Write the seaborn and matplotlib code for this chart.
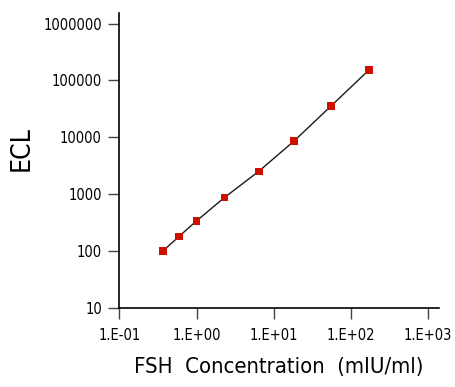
import numpy as np
import pandas as pd
import seaborn as sns
import matplotlib.pyplot as plt
from matplotlib import font_manager

# FSH standard curve
conc = [0.37, 0.59, 1.0, 2.31, 6.4, 18.2, 55.0, 171.0]
ecl = [100, 177, 335, 867, 2500, 8470, 35100, 152000]

x_ticks = [0.1, 1, 10, 100, 1000]
x_tick_labels = ["1.E-01", "1.E+00", "1.E+01", "1.E+02", "1.E+03"]
y_ticks = [10, 100, 1000, 10000, 100000, 1000000]
y_tick_labels = ["10", "100", "1000", "10000", "100000", "1000000"]

df = pd.DataFrame({"conc": conc, "ecl": ecl})

sns.set_style("ticks")

# look for a narrow face, the original uses a condensed sans
narrow = [f for f in font_manager.fontManager.ttflist
          if f.stretch in ("condensed", "semi-condensed", "extra-condensed")
          or "Narrow" in f.name or "Condensed" in f.name]
stretch = "normal"
if narrow:
    fam = narrow[0].name
    stretch = narrow[0].stretch if isinstance(narrow[0].stretch, str) else "condensed"
else:
    fam = "DejaVu Sans"
plt.rcParams["font.family"] = [fam, "DejaVu Sans"]
plt.rcParams["font.stretch"] = stretch
plt.rcParams["text.color"] = "black"
plt.rcParams["axes.labelcolor"] = "black"
plt.rcParams["xtick.labelcolor"] = "black"
plt.rcParams["ytick.labelcolor"] = "black"

fig = plt.figure(figsize=(4.56, 3.87), dpi=100)
ax = fig.add_axes([0.2616, 0.2054, 0.701, 0.7616])

sns.lineplot(data=df, x="conc", y="ecl", ax=ax, color="#1a1a1a", linewidth=1.0)
sns.scatterplot(data=df, x="conc", y="ecl", ax=ax, marker="s", s=30,
                color="#cc1100", edgecolor="none", zorder=3)

ax.set_xscale("log")
ax.set_yscale("log")
ax.set_xlim(0.1, 10 ** 3.14)
ax.set_ylim(10, 10 ** 6.19)
ax.set_xticks(x_ticks)
ax.set_xticklabels(x_tick_labels)
ax.set_yticks(y_ticks)
ax.set_yticklabels(y_tick_labels)
ax.minorticks_off()

ax.tick_params(axis="both", direction="out", length=8, width=1,
               color="#444444", labelsize=10.5, pad=4.5)
ax.tick_params(axis="x", pad=7)
for s in ["top", "right"]:
    ax.spines[s].set_visible(False)
for s in ["left", "bottom"]:
    ax.spines[s].set_linewidth(1.2)
    ax.spines[s].set_color("black")

ax.set_xlabel("FSH  Concentration  (mIU/ml)", fontsize=15.8, labelpad=10)
ax.set_ylabel("ECL", fontsize=19)
ax.yaxis.set_label_coords(-0.265, 0.54)

fig.savefig("out.png", dpi=100)
